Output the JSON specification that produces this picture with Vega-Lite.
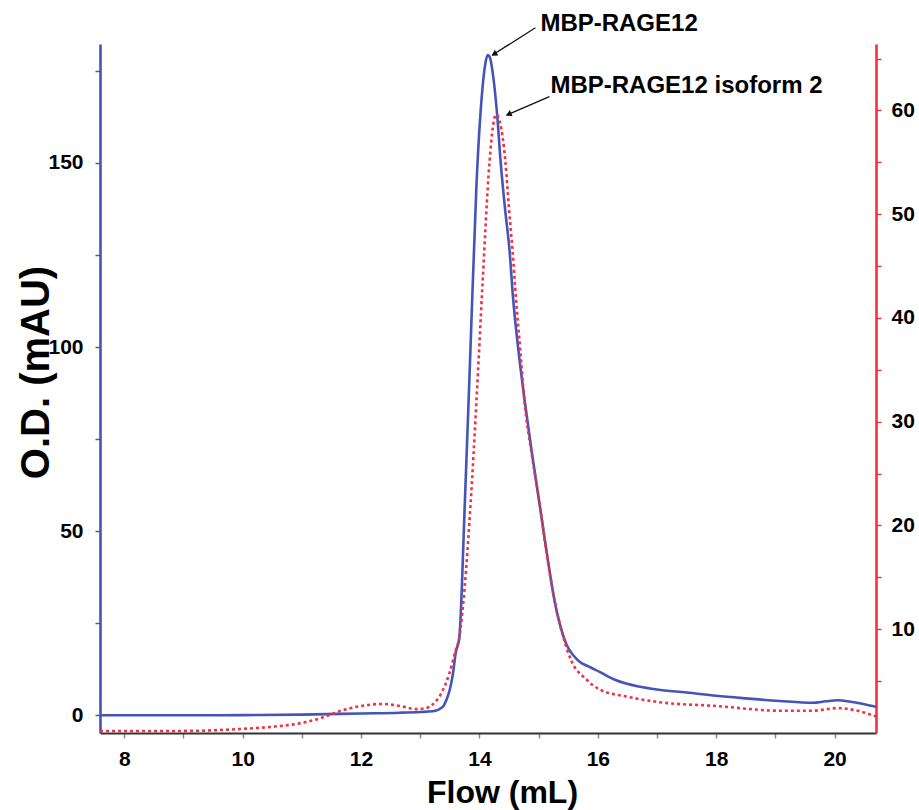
{
  "$schema": "https://vega.github.io/schema/vega-lite/v6.json",
  "width": 776,
  "height": 689,
  "autosize": {"type": "none"},
  "padding": {"left": 100, "top": 44, "right": 43, "bottom": 77},
  "background": "white",
  "config": {"view": {"stroke": null}, "font": "Liberation Sans"},
  "datasets": {
    "blue": [
      {"x": 7.59, "od": 0}, {"x": 9, "od": 0}, {"x": 10, "od": 0.05}, {"x": 11, "od": 0.2},
      {"x": 12, "od": 0.5}, {"x": 12.65, "od": 0.7}, {"x": 13.0, "od": 0.9}, {"x": 13.21, "od": 1.1},
      {"x": 13.38, "od": 2.3}, {"x": 13.45, "od": 4.5}, {"x": 13.5, "od": 7}, {"x": 13.55, "od": 11},
      {"x": 13.6, "od": 17}, {"x": 13.66, "od": 21}, {"x": 13.75, "od": 56}, {"x": 13.85, "od": 100},
      {"x": 13.95, "od": 144}, {"x": 14.05, "od": 170}, {"x": 14.1, "od": 177}, {"x": 14.14, "od": 179.3},
      {"x": 14.18, "od": 178.5}, {"x": 14.22, "od": 175}, {"x": 14.3, "od": 163}, {"x": 14.36, "od": 150},
      {"x": 14.43, "od": 138}, {"x": 14.51, "od": 126}, {"x": 14.57, "od": 113}, {"x": 14.66, "od": 99},
      {"x": 14.76, "od": 86}, {"x": 14.88, "od": 72}, {"x": 15.01, "od": 58}, {"x": 15.13, "od": 45},
      {"x": 15.27, "od": 31}, {"x": 15.44, "od": 20.5}, {"x": 15.66, "od": 15},
      {"x": 15.85, "od": 13.2}, {"x": 16.03, "od": 11.8}, {"x": 16.3, "od": 9.6},
      {"x": 16.7, "od": 7.8}, {"x": 17.0, "od": 7.0}, {"x": 17.5, "od": 6.2}, {"x": 18, "od": 5.3},
      {"x": 18.5, "od": 4.6}, {"x": 19.07, "od": 3.9}, {"x": 19.63, "od": 3.4}, {"x": 19.85, "od": 3.8},
      {"x": 20.05, "od": 4.1}, {"x": 20.3, "od": 3.6}, {"x": 20.7, "od": 2.3}
    ],
    "red": [
      {"x": 7.59, "v": 0.2}, {"x": 9, "v": 0.2}, {"x": 10, "v": 0.4}, {"x": 10.5, "v": 0.6},
      {"x": 10.96, "v": 0.93}, {"x": 11.3, "v": 1.4}, {"x": 11.69, "v": 2.2}, {"x": 12.0, "v": 2.6},
      {"x": 12.36, "v": 2.8}, {"x": 12.7, "v": 2.55}, {"x": 12.93, "v": 2.3}, {"x": 13.1, "v": 2.4},
      {"x": 13.2, "v": 2.7}, {"x": 13.38, "v": 4.1}, {"x": 13.49, "v": 5.7}, {"x": 13.6, "v": 8},
      {"x": 13.66, "v": 9.2}, {"x": 13.75, "v": 14}, {"x": 13.85, "v": 22}, {"x": 13.95, "v": 32},
      {"x": 14.05, "v": 43}, {"x": 14.17, "v": 55}, {"x": 14.23, "v": 58.5}, {"x": 14.28, "v": 59.6},
      {"x": 14.34, "v": 59}, {"x": 14.44, "v": 55}, {"x": 14.5, "v": 50.5}, {"x": 14.56, "v": 46.5},
      {"x": 14.62, "v": 41.7}, {"x": 14.69, "v": 36.9}, {"x": 14.76, "v": 32}, {"x": 14.88, "v": 27},
      {"x": 15.01, "v": 22.4}, {"x": 15.13, "v": 17.5}, {"x": 15.27, "v": 12.8}, {"x": 15.4, "v": 9.6},
      {"x": 15.55, "v": 7}, {"x": 15.8, "v": 5.2}, {"x": 16.03, "v": 4.2}, {"x": 16.5, "v": 3.5},
      {"x": 17, "v": 3.0}, {"x": 18, "v": 2.6}, {"x": 19.07, "v": 2.15}, {"x": 19.63, "v": 2.15},
      {"x": 20.05, "v": 2.4}, {"x": 20.3, "v": 2.25}, {"x": 20.7, "v": 1.6}
    ],
    "labels": [
      {"label": "MBP-RAGE12", "x": 15.03, "od": 185.9, "ax": 14.946, "ay": 186.7, "tx": 14.219, "ty": 179.3},
      {"label": "MBP-RAGE12 isoform 2", "x": 15.2, "od": 168.9, "ax": 15.183, "ay": 168.0, "tx": 14.461, "ty": 163.0}
    ],
    "head1": [{"x": 14.261, "od": 179.7}],
    "head2": [{"x": 14.507, "od": 163.3}]
  },
  "layer": [
    {
      "layer": [
        {
          "data": {"name": "blue"},
          "mark": {"type": "line", "color": "#4454b8", "strokeWidth": 2.6, "interpolate": "monotone"},
          "encoding": {
            "x": {
              "field": "x", "type": "quantitative", "title": "Flow (mL)",
              "scale": {"domain": [7.59, 20.7], "nice": false, "zero": false},
              "axis": {
                "values": [8, 9, 10, 11, 12, 13, 14, 15, 16, 17, 18, 19, 20],
                "labelExpr": "datum.value % 2 === 0 ? format(datum.value, 'd') : ''",
                "domainColor": "#333333", "domainWidth": 2,
                "tickColor": "#888888", "tickSize": 5, "tickWidth": 1.5,
                "labelFont": "Liberation Sans", "labelFontWeight": "bold", "labelFontSize": 21, "labelColor": "black",
                "labelPadding": 10,
                "titleFont": "Liberation Sans", "titleFontWeight": "bold", "titleFontSize": 32, "titleColor": "black",
                "titleBaseline": "alphabetic", "titleY": 69, "titleX": 402,
                "grid": false
              }
            },
            "y": {
              "field": "od", "type": "quantitative", "title": "O.D. (mAU)",
              "scale": {"domain": [-4.8, 182.3], "nice": false, "zero": false},
              "axis": {
                "values": [0, 25, 50, 75, 100, 125, 150, 175],
                "labelExpr": "datum.value % 50 === 0 ? datum.label : ''",
                "domainColor": "#4454b8", "domainWidth": 2.6,
                "tickColor": "#4454b8", "tickSize": 5, "tickWidth": 1.5,
                "labelFont": "Liberation Sans", "labelFontWeight": "bold", "labelFontSize": 21, "labelColor": "black",
                "labelPadding": 12,
                "titleFont": "Liberation Sans", "titleFontWeight": "bold", "titleFontSize": 40, "titleColor": "black",
                "titleBaseline": "alphabetic", "titleX": -52, "titleY": 328,
                "grid": false
              }
            }
          }
        },
        {
          "data": {"name": "labels"},
          "mark": {"type": "rule", "color": "#111111", "strokeWidth": 1.3},
          "encoding": {
            "x": {"field": "ax", "type": "quantitative", "title": "Flow (mL)"},
            "y": {"field": "ay", "type": "quantitative", "title": "O.D. (mAU)"},
            "x2": {"field": "tx"},
            "y2": {"field": "ty"}
          }
        },
        {
          "data": {"name": "head1"},
          "mark": {"type": "point", "shape": "triangle", "filled": true, "color": "#111111", "size": 45, "angle": 238, "opacity": 1},
          "encoding": {
            "x": {"field": "x", "type": "quantitative", "title": "Flow (mL)"},
            "y": {"field": "od", "type": "quantitative", "title": "O.D. (mAU)"}
          }
        },
        {
          "data": {"name": "head2"},
          "mark": {"type": "point", "shape": "triangle", "filled": true, "color": "#111111", "size": 45, "angle": 247, "opacity": 1},
          "encoding": {
            "x": {"field": "x", "type": "quantitative", "title": "Flow (mL)"},
            "y": {"field": "od", "type": "quantitative", "title": "O.D. (mAU)"}
          }
        },
        {
          "data": {"name": "labels"},
          "mark": {"type": "text", "align": "left", "baseline": "alphabetic", "font": "Liberation Sans", "fontWeight": "bold", "fontSize": 24, "color": "black"},
          "encoding": {
            "x": {"field": "x", "type": "quantitative", "title": "Flow (mL)"},
            "y": {"field": "od", "type": "quantitative", "title": "O.D. (mAU)"},
            "text": {"field": "label"}
          }
        }
      ]
    },
    {
      "data": {"name": "red"},
      "mark": {"type": "line", "color": "#ee3344", "strokeWidth": 2.6, "strokeDash": [3, 3], "interpolate": "monotone"},
      "encoding": {
        "x": {"field": "x", "type": "quantitative", "title": "Flow (mL)"},
        "y": {
          "field": "v", "type": "quantitative", "title": null,
          "scale": {"domain": [0, 66.4], "nice": false, "zero": false},
          "axis": {
            "orient": "right",
            "values": [5, 10, 15, 20, 25, 30, 35, 40, 45, 50, 55, 60, 65],
            "labelExpr": "datum.value % 10 === 0 ? datum.label : ''",
            "domainColor": "#ee3344", "domainWidth": 2.6,
            "tickColor": "#ee3344", "tickSize": 5, "tickWidth": 1.5,
            "labelFont": "Liberation Sans", "labelFontWeight": "bold", "labelFontSize": 21, "labelColor": "black",
            "labelPadding": 10,
            "grid": false
          }
        }
      }
    }
  ],
  "resolve": {"scale": {"y": "independent"}}
}
